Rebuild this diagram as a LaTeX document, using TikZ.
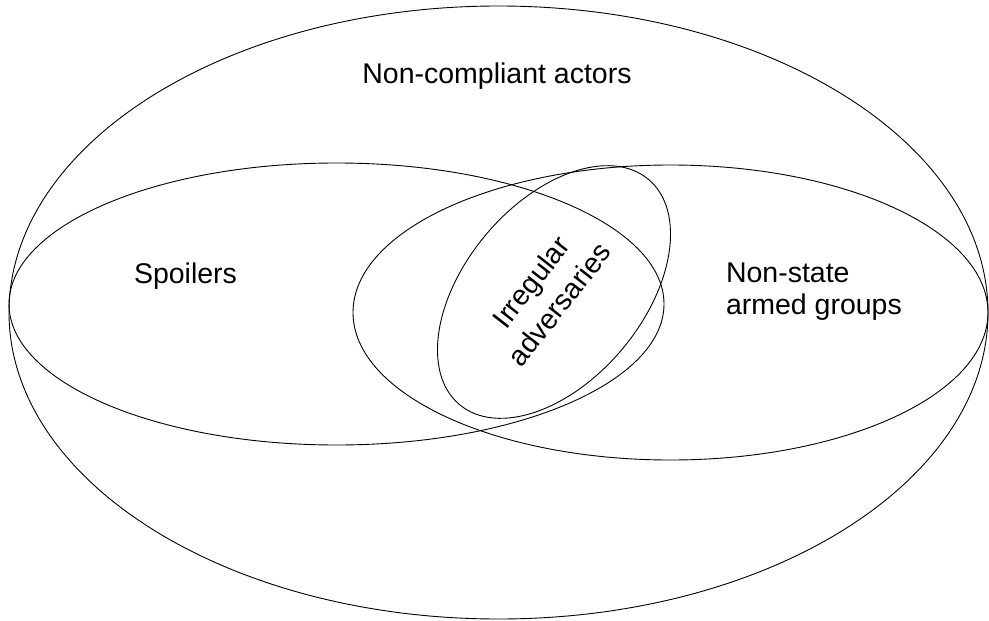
\documentclass[tikz,border=0pt]{standalone}
\usepackage{fontspec}
\setmainfont{Liberation Sans}
\begin{document}
\begin{tikzpicture}[x=1pt,y=-1pt,
  set/.style={draw=black,line width=0.9pt},
  lbl/.style={inner sep=0pt,outer sep=0pt,font=\fontsize{28.5}{32}\selectfont}]
\useasboundingbox (0,0) rectangle (989,621);
% outer set
\draw[set] (498.5,312.5) ellipse [x radius=489.5pt, y radius=306.5pt];
% spoilers
\draw[set] (336.5,304) ellipse [x radius=327.5pt, y radius=141pt];
% non-state armed groups
\draw[set] (670.5,312.5) ellipse [x radius=317.5pt, y radius=147.5pt];
% irregular adversaries
\draw[set,shift={(554,292)},rotate=50] (0,0) ellipse [x radius=147pt, y radius=89pt];
% labels
\node[lbl,anchor=base] (nca) at (497,83) {Non-compliant actors};
\node[lbl,anchor=base west] (spo) at (134,283) {Spoilers};
\node[lbl,anchor=base west,align=left] (nsag) at (726,314) {Non-state\\armed groups};
\node[lbl,align=center,rotate=52,font=\fontsize{28.5}{36}\selectfont] (ira) at (545,293) {Irregular\\adversaries};
\end{tikzpicture}
\end{document}
